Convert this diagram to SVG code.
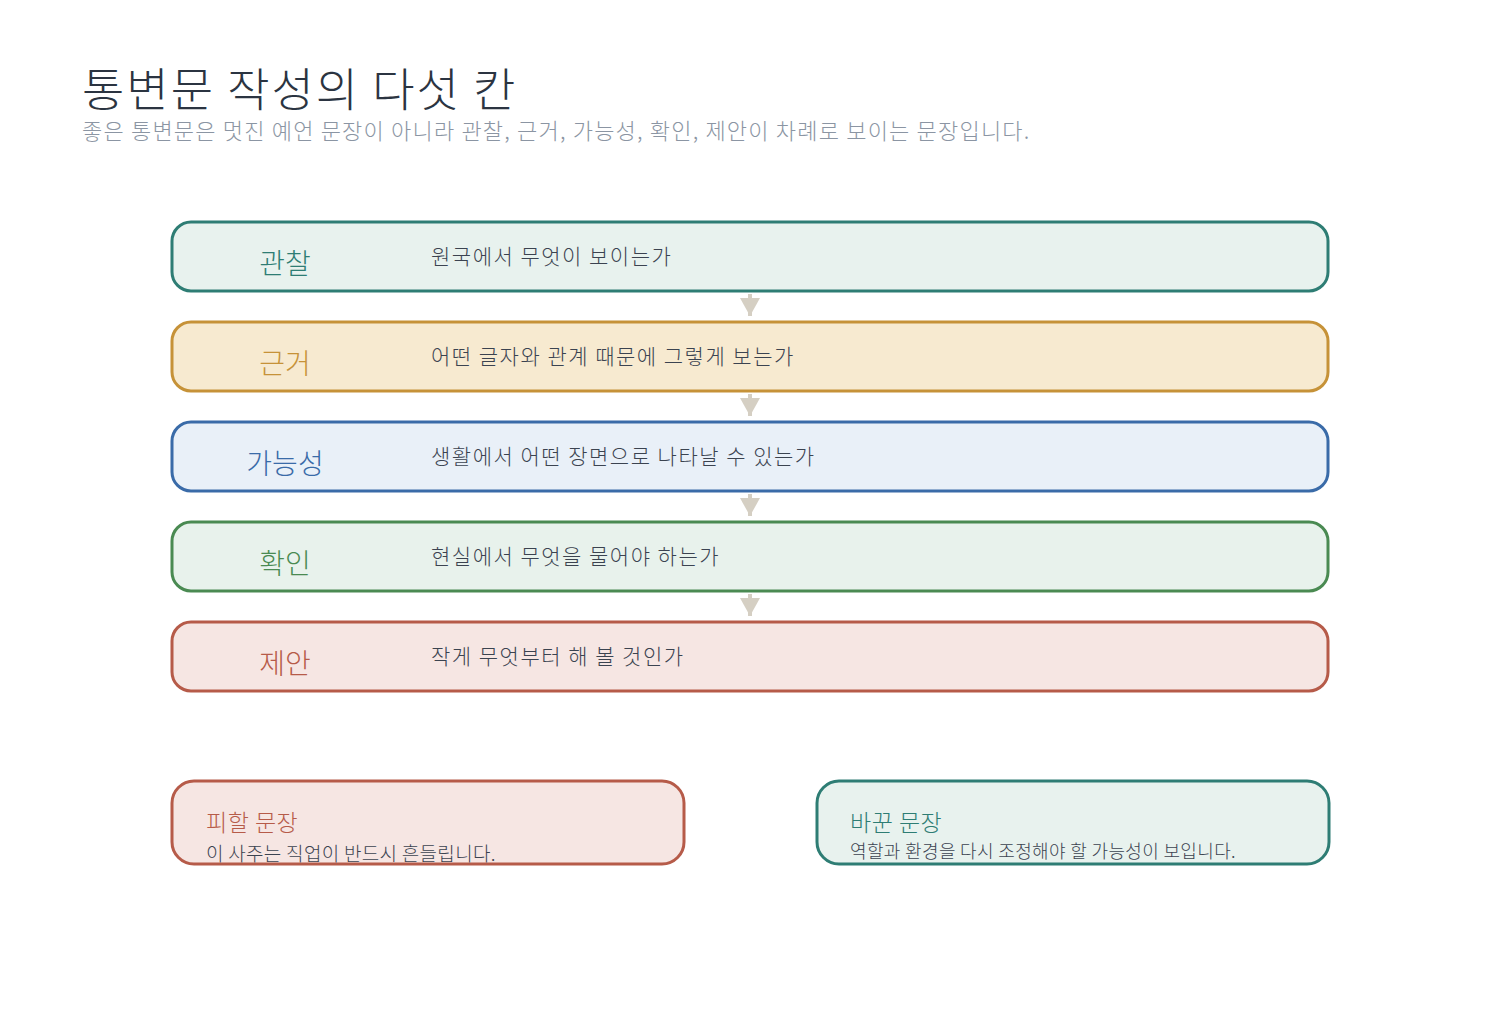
<svg xmlns="http://www.w3.org/2000/svg" width="1500" height="1010" viewBox="0 0 1500 1010">
<style>
text{font-family:"Noto Sans CJK KR","Noto Sans",sans-serif}
.title{font-size:46px;fill:#2b3441;font-weight:300;letter-spacing:2px}
.sub{font-size:22px;fill:#8b95a3;font-weight:300;letter-spacing:1.2px}
.box{stroke-width:3}
.lbl{font-size:28px;text-anchor:middle;font-weight:300}
.desc{font-size:21px;fill:#3b4350;font-weight:300;letter-spacing:1.5px}
.bt{font-size:23px;font-weight:300;letter-spacing:0.5px}
.bs{font-size:19px;fill:#3b4350;font-weight:300;letter-spacing:0.3px}
.bs2{font-size:18px;fill:#3b4350;font-weight:300;letter-spacing:0.35px}
.conn{stroke:#d5cfc3;stroke-width:4;fill:none}
</style>
<defs>
<marker id="ah" viewBox="0 0 18 20" refX="18" refY="10" markerWidth="18" markerHeight="20" markerUnits="userSpaceOnUse" orient="auto">
<path d="M0,0 L18,10 L0,20 Z" fill="#d5cfc3"/>
</marker>
</defs>
<rect width="1500" height="1010" fill="#ffffff"/>
<text class="title" x="82" y="106">통변문 작성의 다섯 칸</text>
<text class="sub" x="82" y="139">좋은 통변문은 멋진 예언 문장이 아니라 관찰, 근거, 가능성, 확인, 제안이 차례로 보이는 문장입니다.</text>

<g id="connectors">
<path class="conn" d="M750,294 L750,316" marker-end="url(#ah)"/>
<path class="conn" d="M750,394 L750,416" marker-end="url(#ah)"/>
<path class="conn" d="M750,494 L750,516" marker-end="url(#ah)"/>
<path class="conn" d="M750,594 L750,616" marker-end="url(#ah)"/>
</g>

<g id="node-observe">
<rect class="box" x="172" y="222" width="1156" height="69" rx="19" fill="#e8f2ee" stroke="#2e7d74"/>
<text class="lbl" x="285" y="274" fill="#2e7d74">관찰</text>
<text class="desc" x="431" y="264">원국에서 무엇이 보이는가</text>
</g>
<g id="node-basis">
<rect class="box" x="172" y="322" width="1156" height="69" rx="19" fill="#f7ead0" stroke="#c69238"/>
<text class="lbl" x="285" y="374" fill="#c69238">근거</text>
<text class="desc" x="431" y="364">어떤 글자와 관계 때문에 그렇게 보는가</text>
</g>
<g id="node-possibility">
<rect class="box" x="172" y="422" width="1156" height="69" rx="19" fill="#e9f0f8" stroke="#3a6ba8"/>
<text class="lbl" x="285" y="474" fill="#3a6ba8">가능성</text>
<text class="desc" x="431" y="464">생활에서 어떤 장면으로 나타날 수 있는가</text>
</g>
<g id="node-check">
<rect class="box" x="172" y="522" width="1156" height="69" rx="19" fill="#e8f2ec" stroke="#4a8a52"/>
<text class="lbl" x="285" y="574" fill="#4a8a52">확인</text>
<text class="desc" x="431" y="564">현실에서 무엇을 물어야 하는가</text>
</g>
<g id="node-suggest">
<rect class="box" x="172" y="622" width="1156" height="69" rx="19" fill="#f6e6e3" stroke="#b65b49"/>
<text class="lbl" x="285" y="674" fill="#b65b49">제안</text>
<text class="desc" x="431" y="664">작게 무엇부터 해 볼 것인가</text>
</g>

<g id="node-avoid">
<rect class="box" x="172" y="781" width="512" height="83" rx="22" fill="#f6e6e3" stroke="#b65b49"/>
<text class="bt" x="206" y="831" fill="#b65b49">피할 문장</text>
<text class="bs" x="206" y="861">이 사주는 직업이 반드시 흔들립니다.</text>
</g>
<g id="node-rewrite">
<rect class="box" x="817" y="781" width="512" height="83" rx="22" fill="#e8f2ee" stroke="#2e7d74"/>
<text class="bt" x="850" y="831" fill="#2e7d74">바꾼 문장</text>
<text class="bs2" x="850" y="858">역할과 환경을 다시 조정해야 할 가능성이 보입니다.</text>
</g>
</svg>
